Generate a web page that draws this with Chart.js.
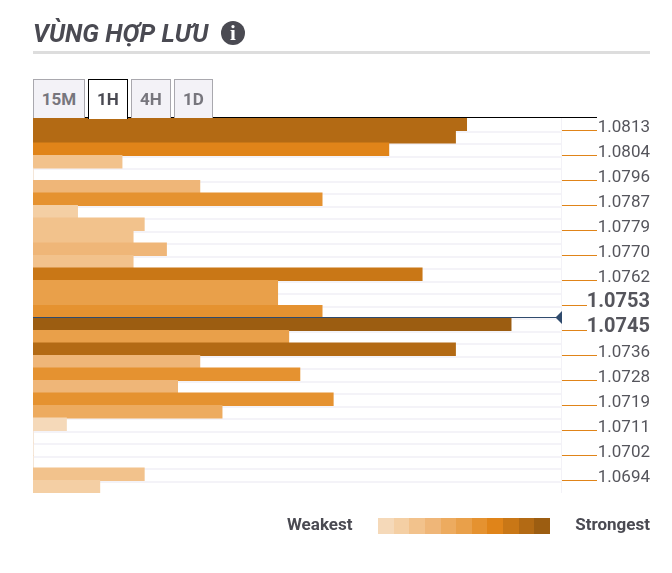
<!DOCTYPE html>
<html>
<head>
<meta charset="utf-8">
<script src="https://cdn.jsdelivr.net/npm/chart.js@4/dist/chart.umd.min.js"></script>
<style>
  html, body { margin: 0; padding: 0; background: #fff; }
  body { position: relative; width: 672px; height: 573px; overflow: hidden; font-family: Roboto, sans-serif; color: #4a4a52; }
  #myBarChart { position: absolute; left: 0; top: 0; }
  .titulo { position: absolute; left: 33px; top: 19px; font-size: 25.2px; line-height: 30px; font-weight: 700; font-style: italic; white-space: nowrap; }
  .linha { position: absolute; left: 33px; top: 51px; width: 617px; height: 3px; background: #dddddd; }
  .info { position: absolute; left: 221px; top: 21px; width: 24px; height: 24px; border-radius: 50%; background: #4a4a52; color: #fff; font: bold 21px/24px "Liberation Serif", serif; text-align: center; }
  .aba { position: absolute; top: 79px; height: 38px; box-sizing: content-box; border: 1px solid #a9a8ae; border-bottom: 0; background: #f3f2f7; color: #77767d; font-size: 17px; font-weight: 700; line-height: 38px; text-align: center; }
  .aba.ativa { border-color: #000; background: #fff; color: #4a4a52; height: 39px; }
  .legenda { position: absolute; top: 514px; font-size: 17px; line-height: 20px; font-weight: 700; }
  #escala { position: absolute; left: 378px; top: 518px; width: 172px; height: 16px; display: flex; }
  #escala div { flex: 1; }
</style>
</head>
<body>
<canvas id="myBarChart" width="672" height="573"></canvas>
<div class="titulo">VÙNG HỢP LƯU</div>
<div class="info">i</div>
<div class="linha"></div>
<div class="aba" style="left:33px;width:50px">15M</div>
<div class="aba ativa" style="left:88px;width:38px">1H</div>
<div class="aba" style="left:131px;width:38px">4H</div>
<div class="aba" style="left:174px;width:37px">1D</div>
<div class="legenda" style="left:287px">Weakest</div>
<div id="escala"></div>
<div class="legenda" style="right:22px">Strongest</div>
<script>
// one label every two rows, the rest stay empty
var priceLabels = ['1.0813', '', '1.0804', '', '1.0796', '', '1.0787', '', '1.0779', '', '1.0770', '', '1.0762', '', '1.0753', '',
  '1.0745', '', '1.0736', '', '1.0728', '', '1.0719', '', '1.0711', '', '1.0702', '', '1.0694', ''];
var rowValues = [39, 38, 32, 8, 0, 15, 26, 4, 10, 9, 12, 9, 35, 22, 22, 26, 43, 23, 38, 15, 24, 13, 27, 17, 3, 0, 0, 0, 10, 6];
var boldLabels = ['1.0753', '1.0745'];
var currentRow = 15.5;
var maxValue = 47.5;

var levelColors = ['#f5d9b9', '#f4cfa4', '#f2c28c', '#efb678', '#edab5f', '#e9a04a', '#e59230', '#e08419', '#c97716', '#b36a14', '#9c5d11'];
var levelLimits = [4, 8, 12, 17, 22, 24, 30, 33, 36, 40];

function levelColor(value) {
  var n = 0;
  while (n < levelLimits.length && value >= levelLimits[n]) {
    n++;
  }
  return levelColors[n];
}

levelColors.forEach(function (c) {
  var cell = document.createElement('div');
  cell.style.background = c;
  document.getElementById('escala').appendChild(cell);
});

// row bands, orange ticks, top rule and current price marker
var extrasPlugin = {
  id: 'extras',
  beforeDatasetsDraw: function (chart) {
    var c = chart.ctx, y = chart.scales.y, area = chart.chartArea;
    var step = y.getPixelForValue(1) - y.getPixelForValue(0);
    c.save();
    c.fillStyle = '#f4f3f8';
    for (var i = 1; i < priceLabels.length; i++) {
      c.fillRect(area.left, Math.round(y.getPixelForValue(i) - step / 2), area.right - area.left, 2);
    }
    c.restore();
  },
  afterDatasetsDraw: function (chart) {
    var c = chart.ctx, y = chart.scales.y, area = chart.chartArea;
    var step = y.getPixelForValue(1) - y.getPixelForValue(0);
    c.save();
    c.fillStyle = '#e08419';
    priceLabels.forEach(function (label, i) {
      if (label === '') return;
      var len = boldLabels.indexOf(label) >= 0 ? 25 : 35;
      c.fillRect(area.right + 1, Math.round(y.getPixelForValue(i) + step / 2) - 1, len, 1);
    });
    c.fillStyle = '#000';
    c.fillRect(area.left, area.top - 1, 564, 1);
    var py = y.getPixelForValue(currentRow) - 1;
    c.fillStyle = '#2f4a6d';
    c.fillRect(area.left, py, area.right - area.left - 2, 1);
    c.beginPath();
    c.moveTo(area.right - 5.5, py + 0.5);
    c.lineTo(area.right + 1, py - 6);
    c.lineTo(area.right + 1, py + 7);
    c.closePath();
    c.fill();
    c.restore();
  }
};

var myBarChart = new Chart(document.getElementById('myBarChart'), {
  type: 'bar',
  data: {
    labels: priceLabels,
    datasets: [{
      data: rowValues,
      backgroundColor: rowValues.map(levelColor),
      barPercentage: 1,
      categoryPercentage: 1,
      borderWidth: 0,
      inflateAmount: 0.5
    }]
  },
  plugins: [extrasPlugin],
  options: {
    indexAxis: 'y',
    responsive: false,
    animation: false,
    layout: { padding: { left: 33, right: 22, top: 118, bottom: 80 } },
    plugins: { legend: { display: false }, tooltip: { enabled: false } },
    scales: {
      x: {
        min: 0,
        max: maxValue,
        afterBuildTicks: function (scale) {
          scale.ticks = [{ value: 0 }, { value: maxValue }];
        },
        border: { display: false },
        grid: { color: '#f3f2f7', drawTicks: false, lineWidth: 1 },
        ticks: { display: false }
      },
      y: {
        position: 'right',
        afterFit: function (scale) {
          scale.width = 89;
        },
        border: { display: false },
        grid: { display: false },
        ticks: {
          autoSkip: false,
          padding: 0,
          labelOffset: 3,
          crossAlign: 'far',
          color: '#55555c',
          font: function (ctx) {
            var bold = boldLabels.indexOf(priceLabels[ctx.index]) >= 0;
            return { family: 'Roboto', size: bold ? 20 : 17, weight: bold ? '700' : '400' };
          }
        }
      }
    }
  }
});
</script>
</body>
</html>
